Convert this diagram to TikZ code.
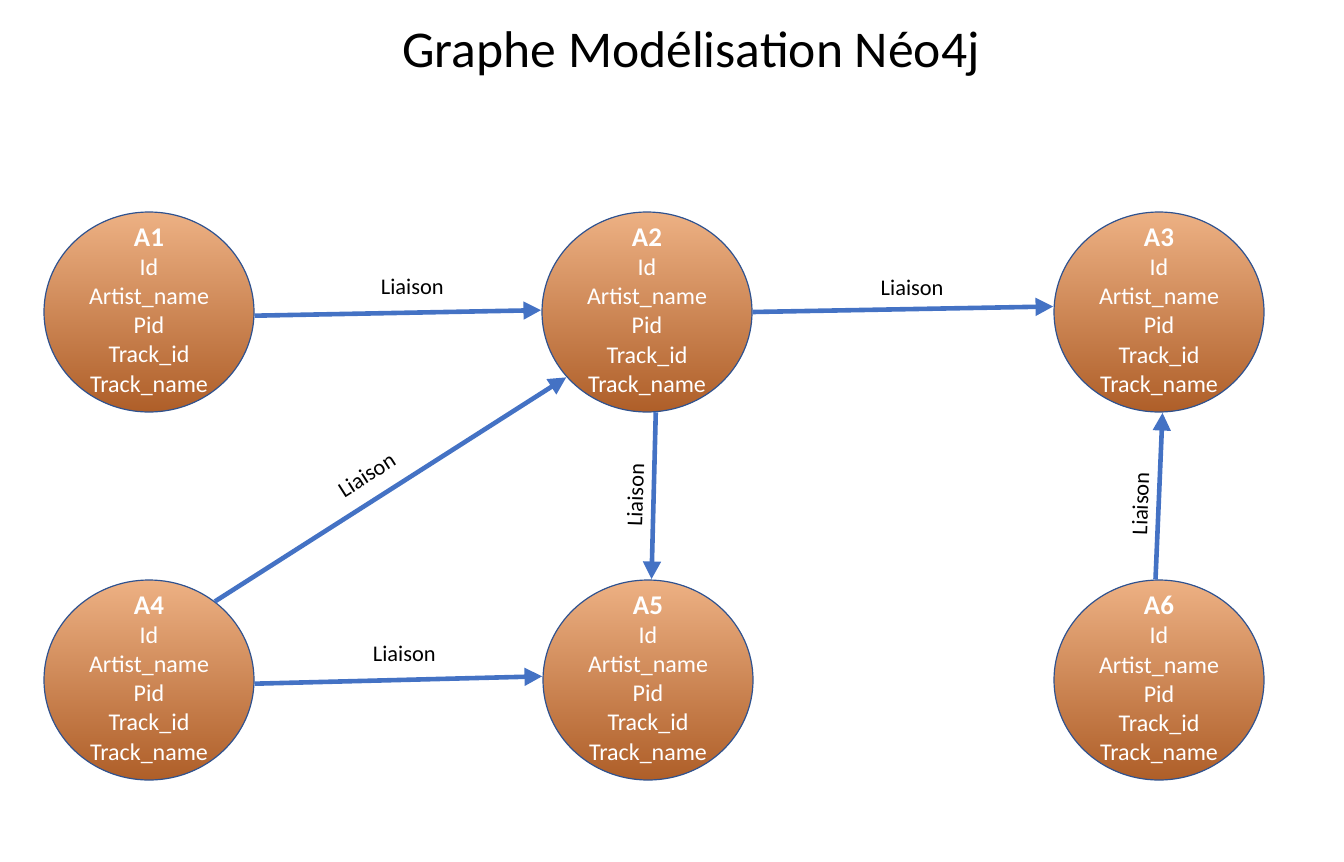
\documentclass[tikz,border=0pt]{standalone}
\usepackage{fontspec}
\setmainfont{Carlito}
\usetikzlibrary{shapes.geometric, arrows.meta}
\definecolor{liaisonblue}{HTML}{4472C4}
\definecolor{rimblue}{HTML}{2F528F}
\definecolor{orangetop}{HTML}{EDB184}
\definecolor{orangemid}{HTML}{E2863F}
\definecolor{orangebot}{HTML}{AE5E28}
\tikzset{
  artist/.style={ellipse, draw=rimblue, line width=0.6pt, inner sep=0pt,
    minimum width=105pt, minimum height=100pt,
    top color=orangetop, middle color=orangemid, bottom color=orangebot},
  fields/.style={text=white, align=center, inner sep=0pt,
    font=\fontsize{12}{14.6}\selectfont},
  liaison/.style={draw=liaisonblue, line width=2.3pt,
    -{Triangle[length=9pt, width=8.5pt]}},
  lbl/.style={font=\fontsize{11.2}{13}\selectfont, inner sep=2pt},
}
\newcommand{\artistfields}[1]{{\fontsize{13.5}{14.6}\selectfont\bfseries #1}\\Id\\Artist\_name\\Pid\\Track\_id\\Track\_name}

\begin{document}
\begin{tikzpicture}[x=0.5pt, y=-0.5pt]
    \useasboundingbox (0,0) rectangle (1344,862);
    \node[font=\fontsize{25.8}{30}\selectfont, anchor=base] (title) at (691,68) {Graphe Modélisation Néo4j};

    \node[artist] (a1) at (149,312) {};
    \node[artist] (a2) at (647,312) {};
    \node[artist] (a3) at (1159,312) {};
    \node[artist] (a4) at (149,680) {};
    \node[artist] (a5) at (648,680) {};
    \node[artist] (a6) at (1159,680) {};

    \node[fields] (f1) at (a1) {\artistfields{A1}};
    \node[fields] (f2) at (a2) {\artistfields{A2}};
    \node[fields] (f3) at (a3) {\artistfields{A3}};
    \node[fields] (f4) at (a4) {\artistfields{A4}};
    \node[fields] (f5) at (a5) {\artistfields{A5}};
    \node[fields] (f6) at (a6) {\artistfields{A6}};

    % liaisons
    \draw[liaison] (a1.358) -- node[lbl, pos=0.55, above=6pt] (l12) {Liaison} (a2.179);
    \draw[liaison] (a2.0) -- node[lbl, pos=0.53, above=3.5pt] (l23) {Liaison} (a3.177);
    \draw[liaison] (a4.50.6) -- node[lbl, pos=0.47, above=5.5pt, sloped] (l42) {Liaison} (a2.219);
    \draw[liaison] (a2.275) -- node[lbl, midway, rotate=88, anchor=south, yshift=2pt] (l25) {Liaison} (a5.88);
    \draw[liaison] (a6.92) -- node[lbl, pos=0.45, rotate=88, anchor=south, yshift=2pt] (l63) {Liaison} (a3.272);
    \draw[liaison] (a4.358) -- node[lbl, pos=0.52, above=6pt] (l45) {Liaison} (a5.178);
\end{tikzpicture}
\end{document}
